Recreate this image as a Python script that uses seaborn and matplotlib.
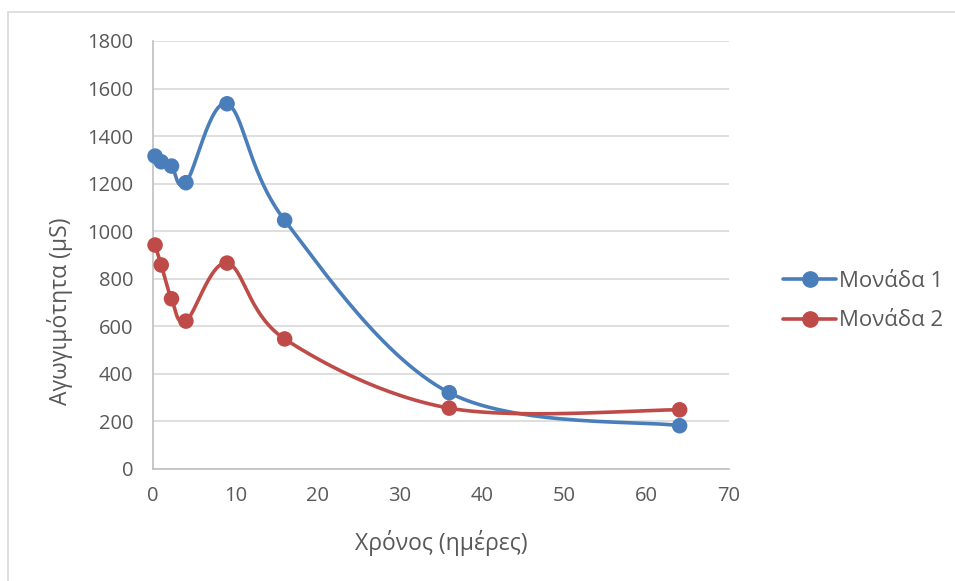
import numpy as np
import pandas as pd
import matplotlib
matplotlib.use("Agg")
import matplotlib.pyplot as plt
from matplotlib.lines import Line2D
import seaborn as sns

days = [0.25, 1, 2.25, 4, 9, 16, 36, 64]
unit1 = [1316, 1292, 1274, 1204, 1536, 1046, 321, 182]
unit2 = [942, 858, 716, 622, 866, 547, 256, 249]
series_names = ["Μονάδα 1", "Μονάδα 2"]
x_ticks = list(range(0, 71, 10))
y_ticks = list(range(0, 1801, 200))
x_label = "Χρόνος (ημέρες)"
y_label = "Αγωγιμότητα (μS)"

colors = ["#4A7EBB", "#BE4B48"]
text_color = "#595959"

sns.set_theme(style="white")
plt.rcParams["font.family"] = ["Open Sans", "DejaVu Sans"]

df = pd.DataFrame({
    "days": days * 2,
    "value": unit1 + unit2,
    "series": [series_names[0]] * len(days) + [series_names[1]] * len(days),
})

W, H = 955, 581
fig = plt.figure(figsize=(W / 100, H / 100), dpi=100)
AX_L, AX_R, AX_T, AX_B = 153, 729, 41, 469
ax = fig.add_axes([AX_L / W, 1 - AX_B / H, (AX_R - AX_L) / W, (AX_B - AX_T) / H])

ax.set_xlim(0, 70)
ax.set_ylim(0, 1800)
PW, PH = AX_R - AX_L, AX_B - AX_T


def smooth(xs, ys, n=30):
    # Excel-style smoothed line computed in pixel-proportional space
    sx = np.array(xs, float) / 70.0 * PW
    sy = np.array(ys, float) / 1800.0 * PH
    P = np.column_stack([sx, sy])
    out = []
    for i in range(len(P) - 1):
        p0 = P[i - 1] if i > 0 else P[i]
        p1 = P[i]
        p2 = P[i + 1]
        p3 = P[i + 2] if i + 2 < len(P) else P[i + 1]
        c1 = p1 + (p2 - p0) / 6.0
        c2 = p2 - (p3 - p1) / 6.0
        t = np.linspace(0, 1, n)[:, None]
        seg = ((1 - t) ** 3) * p1 + 3 * ((1 - t) ** 2) * t * c1 + 3 * (1 - t) * t ** 2 * c2 + t ** 3 * p2
        out.append(seg if i == 0 else seg[1:])
    pts = np.vstack(out)
    return pts[:, 0] / PW * 70, pts[:, 1] / PH * 1800


for name, color in zip(series_names, colors):
    sub = df[df["series"] == name]
    cx, cy = smooth(sub["days"].values, sub["value"].values)
    ax.plot(cx, cy, color=color, lw=2.6, solid_capstyle="round", zorder=3)

sns.scatterplot(data=df, x="days", y="value", hue="series", palette=colors,
                s=125, edgecolor="none", linewidth=0, ax=ax, legend=False, zorder=4,
                clip_on=False)

ax.set_xticks(x_ticks)
ax.set_yticks(y_ticks)
ax.grid(axis="y", color="#D9D9D9", lw=1.2)
ax.grid(axis="x", visible=False)
for s in ["top", "right"]:
    ax.spines[s].set_visible(False)
for s in ["left", "bottom"]:
    ax.spines[s].set_color("#BFBFBF")
    ax.spines[s].set_linewidth(1.2)
ax.tick_params(axis="both", colors=text_color, labelsize=14.5, length=0)
ax.tick_params(axis="y", pad=14)
ax.tick_params(axis="x", pad=12)
ax.set_xlabel(x_label, fontsize=16.5, color=text_color)
ax.set_ylabel(y_label, fontsize=16.5, color=text_color)
ax.xaxis.set_label_coords((352 + 530) / 2 / W, 1 - 543 / H, transform=fig.transFigure)
ax.xaxis.label.set_va("center")
ax.yaxis.set_label_coords(60 / W, 1 - 311 / H, transform=fig.transFigure)
ax.yaxis.label.set_va("center")

handles = [Line2D([0], [0], color=c, lw=2.6, marker="o", markersize=11) for c in colors]
leg = fig.legend(handles, series_names, loc="center left", bbox_to_anchor=(772 / W, 1 - 301 / H),
                 frameon=False, fontsize=16, handlelength=2.4, labelspacing=0.85,
                 handletextpad=0.1, borderpad=0, labelcolor=text_color)

# outer chart border (only top and left edges are visible in the reference)
fig.add_artist(Line2D([8 / W, 8 / W], [0, 1 - 12 / H], transform=fig.transFigure,
                      color="#D9D9D9", lw=1.2))
fig.add_artist(Line2D([8 / W, 1], [1 - 12 / H, 1 - 12 / H], transform=fig.transFigure,
                      color="#D9D9D9", lw=1.2))

fig.savefig("out.png", dpi=100)
